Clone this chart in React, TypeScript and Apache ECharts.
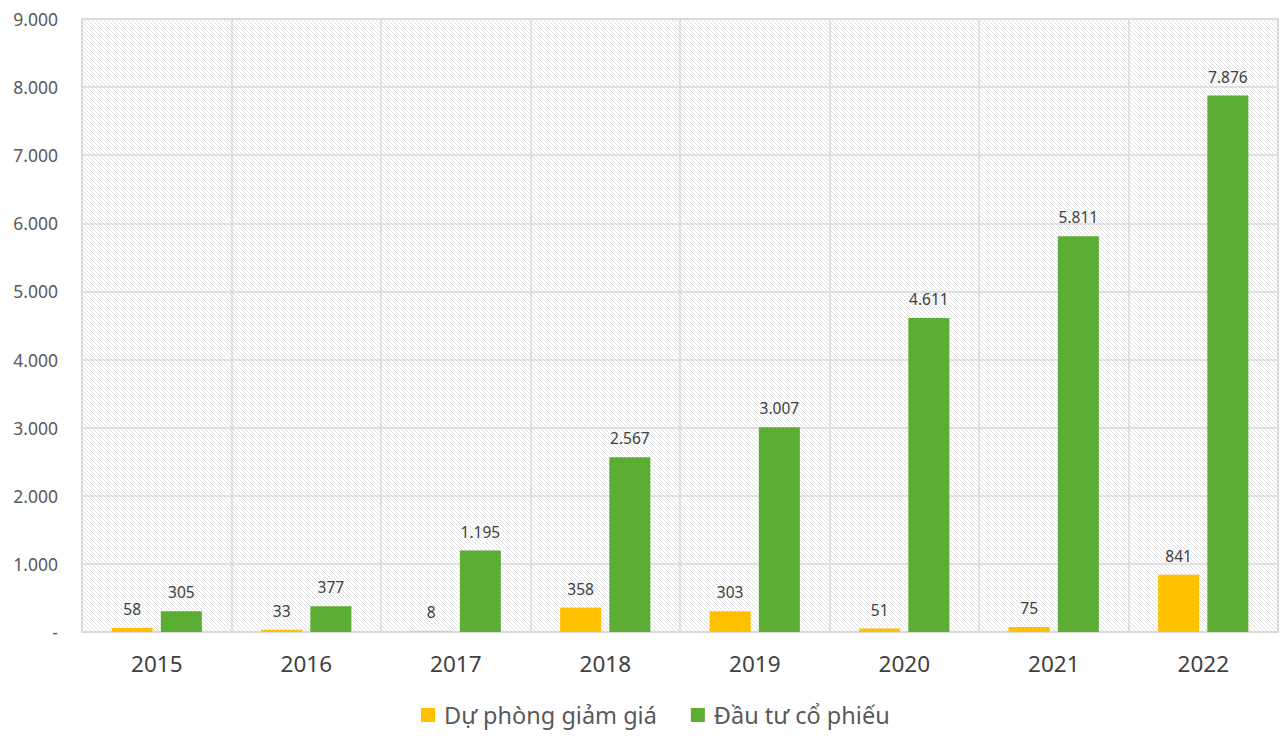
import React, { useEffect, useRef } from "react";
import * as echarts from "echarts";

const years = ["2015", "2016", "2017", "2018", "2019", "2020", "2021", "2022"];
const provision = [58, 33, 8, 358, 303, 51, 75, 841];
const stockInvest = [305, 377, 1195, 2567, 3007, 4611, 5811, 7876];
const seriesNames = ["Dự phòng giảm giá", "Đầu tư cổ phiếu"];

const FONT = "'Noto Sans', 'Open Sans', sans-serif";

function fmt(v: number): string {
  if (v === 0) return "-";
  const s = Math.round(v).toString();
  return s.replace(/\B(?=(\d{3})+(?!\d))/g, ".");
}

function makePattern(): HTMLCanvasElement {
  const c = document.createElement("canvas");
  const n = 4;
  c.width = n;
  c.height = n;
  const ctx = c.getContext("2d")!;
  ctx.fillStyle = "#ffffff";
  ctx.fillRect(0, 0, n, n);
  ctx.strokeStyle = "#dcdcdc";
  ctx.lineWidth = 0.9;
  ctx.beginPath();
  ctx.moveTo(-1, -1);
  ctx.lineTo(n + 1, n + 1);
  ctx.moveTo(-1, n - 1);
  ctx.lineTo(1, n + 1);
  ctx.moveTo(n - 1, -1);
  ctx.lineTo(n + 1, 1);
  ctx.stroke();
  return c;
}

export default function App() {
  const ref = useRef<HTMLDivElement>(null);
  useEffect(() => {
    document.body.style.margin = "0";
    const chart = echarts.init(ref.current!, null, { renderer: "svg" });
    const pat = makePattern();
    const gridColor = "#d9d9d9";
    const labelCfg = {
      show: true,
      position: "top",
      distance: 11,
      fontSize: 15.5,
      color: "#404040",
      fontFamily: FONT,
      formatter: (p: any) => fmt(p.value),
    };
    chart.setOption({
      animation: false,
      backgroundColor: "#ffffff",
      textStyle: { fontFamily: FONT },
      grid: {
        left: 82,
        right: 8,
        top: 19,
        bottom: 112,
        show: true,
        backgroundColor: { image: pat.toDataURL(), repeat: "repeat" },
        borderColor: gridColor,
        borderWidth: 1.5,
      },
      legend: {
        bottom: 12,
        left: 416,
        itemWidth: 14,
        itemHeight: 14,
        itemGap: 34,
        icon: "rect",
        textStyle: { fontSize: 23.5, color: "#595959", fontFamily: FONT, padding: [0, 0, 0, 4] },
        data: seriesNames,
      },
      xAxis: {
        type: "category",
        data: years,
        axisLine: { show: true, lineStyle: { color: gridColor, width: 1.5 } },
        axisTick: { show: false },
        splitLine: { show: true, lineStyle: { color: gridColor, width: 1.5 } },
        axisLabel: { fontSize: 22.5, color: "#404040", margin: 20, fontFamily: FONT },
      },
      yAxis: {
        type: "value",
        min: 0,
        max: 9000,
        interval: 1000,
        axisLine: { show: false },
        axisTick: { show: false },
        splitLine: { show: true, lineStyle: { color: gridColor, width: 1.5 } },
        axisLabel: {
          fontSize: 17.5,
          color: "#595959",
          margin: 24,
          fontFamily: FONT,
          formatter: (v: number) => fmt(v),
        },
      },
      series: [
        {
          name: seriesNames[0],
          type: "bar",
          data: provision,
          barWidth: 41,
          barGap: "20%",
          itemStyle: { color: "#ffc000" },
          label: labelCfg,
        },
        {
          name: seriesNames[1],
          type: "bar",
          data: stockInvest,
          barWidth: 41,
          itemStyle: { color: "#5bad33" },
          label: labelCfg,
        },
      ],
    });
    return () => chart.dispose();
  }, []);
  return <div ref={ref} style={{ width: 1286, height: 744 }} />;
}
